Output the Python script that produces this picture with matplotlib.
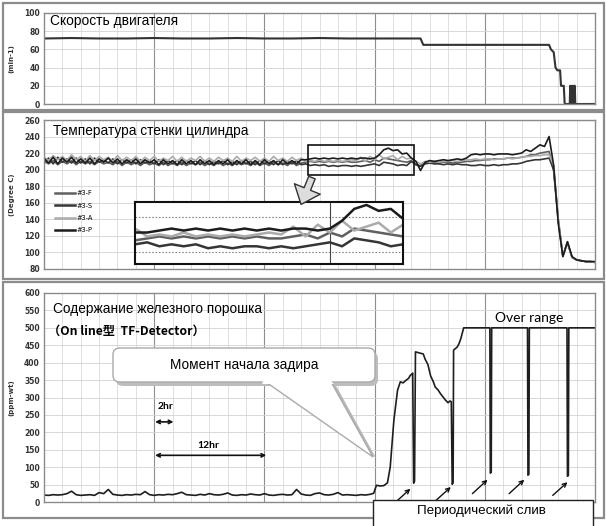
import numpy as np
import matplotlib
matplotlib.use("Agg")
import matplotlib.pyplot as plt
from matplotlib.patches import Rectangle, FancyBboxPatch, Polygon, FancyArrowPatch, ArrowStyle
from matplotlib.lines import Line2D

# ---------------- data ----------------
# engine speed (min-1)
speed_hr = [0, 3, 6, 9, 12, 15, 18, 21, 24, 27, 30, 33, 36, 39, 41.0, 41.3, 44, 47, 50, 53,
            55.0, 55.2, 55.5, 55.7, 55.9, 56.2, 56.3, 56.6, 56.7, 57.25,
            57.3, 57.4, 57.45, 57.55, 57.6, 57.7, 57.75, 57.8, 57.85, 60]
speed_val = [72, 72.5, 72, 72, 72.5, 72, 72, 72.5, 72, 72, 72.5, 72, 72, 72, 72, 65, 65, 65, 65, 65,
             65, 60, 57, 40, 37, 37, 20, 20, 0, 0,
             20, 0, 20, 0, 20, 0, 20, 20, 0, 0]

# cylinder wall temperature (deg C), sampled every 0.5 hr from 0 to 60 hr
temp_labels = ["#3-F", "#3-S", "#3-A", "#3-P"]
temp_F = [210,207,211,206,210,207,211,206,210,207, 210,206,210,207,209,206,210,205,209,206,
          209,205,209,206,208,205,209,205,208,205, 209,205,208,206,209,205,208,205,209,205,
          208,205,209,206,208,205,209,205,208,205, 209,206,208,205,209,205,208,
          209,210,209,210,209,210,209,210,209,210, 209,209,210,211,209,212,210,214,213,212,
          211,210,209,211,
          206,205,208,209,209,208,209,209,208,209, 209,210,210,211,211,212,212,213,213,213,
          214,214,214,215,216,218,218,220,221,222, 198,138,95,112,94,91,90,89,89,88]
temp_S = [208,214,207,215,209,213,208,214,208,213, 207,214,209,212,208,213,207,212,208,212,
          207,212,208,211,207,212,206,211,207,211, 206,211,207,211,206,211,206,210,207,211,
          206,210,206,211,207,210,206,211,207,210, 206,211,206,210,207,211,206,
          207,205,206,205,206,204,205,204,205,205, 204,205,204,205,206,207,205,209,208,207,
          205,206,205,210,
          206,204,207,208,207,207,206,207,206,207, 206,206,205,205,206,205,205,206,205,206,
          206,207,207,208,210,211,212,212,213,214, 200,140,96,112,94,91,90,89,89,88]
temp_A = [215,211,217,212,216,211,218,212,216,210, 217,211,216,212,215,210,217,211,215,211,
          216,210,215,211,216,210,214,211,216,210, 215,210,214,211,216,210,214,210,215,211,
          214,210,216,210,214,211,215,210,214,210, 216,211,214,210,215,211,214,
          210,211,210,212,210,211,210,211,210,211, 212,211,215,210,216,212,218,213,215,217,
          212,216,213,214,
          210,207,210,209,210,209,210,210,211,210, 211,212,212,213,212,213,213,212,213,213,
          214,213,214,215,216,216,217,217,218,218, 205,140,96,113,94,91,90,89,89,88]
temp_P = [214,208,215,207,214,209,215,208,213,208, 214,207,213,209,214,208,213,207,212,208,
          213,207,212,208,212,206,212,207,211,206, 212,207,211,206,212,207,211,206,211,207,
          212,206,211,207,212,206,211,206,212,207, 211,206,212,207,211,207,212,
          212,213,214,213,214,213,214,213,214,213, 214,213,214,214,213,214,218,224,226,223,
          224,219,220,214,
          210,199,209,211,210,211,212,211,212,213, 212,214,218,219,218,219,219,218,219,219,
          219,218,219,220,224,222,226,230,228,240, 205,135,95,113,95,91,90,89,89,89]

# iron powder content (ppm-wt): baseline every 0.5 hr, then event section
iron_base = [20,19,21,20,21,24,31,21,19,20, 21,19,27,24,36,22,20,19,21,20,
             22,21,30,21,19,21,20,22,21,24, 28,21,20,19,22,20,24,21,20,22,
             26,20,19,21,20,23,21,20,24,20, 19,21,22,20,21,36,23,20,19,24,
             26,21,20,22,27,20,21,20,19,21, 20,22]
iron_ev_hr = [35.9, 36.2, 36.6, 37.0, 37.4, 37.7, 38.1, 38.5, 38.8, 39.1,
              39.4, 39.7, 39.9, 40.1, 40.15, 40.25, 40.35, 40.45, 41.0, 41.3,
              41.5, 41.8, 42.1, 42.4, 42.6, 42.9, 43.2, 43.5, 43.7, 44.0,
              44.2, 44.35, 44.45, 44.55, 44.6, 45.0, 45.2, 45.4, 45.7, 48.55,
              48.6, 48.7, 48.75, 52.65, 52.7, 52.8, 52.85, 56.95, 57.0, 57.1,
              57.15, 60.0]
iron_ev_val = [25, 48, 46, 47, 55, 100, 235, 321, 345, 342,
               349, 355, 364, 368, 370, 54, 60, 431, 427, 425,
               410, 395, 362, 345, 330, 322, 310, 300, 293, 285,
               290, 288, 51, 55, 436, 445, 455, 470, 500, 500,
               83, 85, 500, 500, 77, 80, 500, 500, 74, 76,
               500, 500]

# ---------------- figure ----------------
W, H = 606, 526
fig = plt.figure(figsize=(W / 100, H / 100), dpi=100)
fig.patch.set_facecolor("white")

NARROW = ["Liberation Sans Narrow", "Liberation Sans", "DejaVu Sans"]
CAL = ["Lato", "DejaVu Sans"]


def fx(px):
    return px / W


def fy(py):
    return 1 - py / H


def axrect(l, t, r, b):
    return [l / W, 1 - b / H, (r - l) / W, (b - t) / H]


# panel frames
for (l, t, r, b) in [(3, 3, 604, 110), (3, 112, 604, 279), (3, 282, 604, 518)]:
    fig.add_artist(Rectangle((fx(l), fy(b)), fx(r) - fx(l), fy(t) - fy(b), transform=fig.transFigure,
                             fill=False, ec="#8c8c8c", lw=1.6, zorder=0.5))


def style(ax, ylim, yticks, ylabel):
    ax.set_xlim(0, 60)
    ax.set_ylim(*ylim)
    ax.set_yticks(yticks)
    ax.set_xticks([12, 24, 36, 48])
    ax.set_xticks(np.arange(0, 61, 2), minor=True)
    ax.grid(which="minor", axis="x", color="#dadada", lw=0.6)
    ax.grid(which="major", axis="x", color="#8f8f8f", lw=0.8)
    ax.grid(which="major", axis="y", color="#d2d2d2", lw=0.6)
    ax.set_axisbelow(True)
    ax.tick_params(which="both", length=0, labelbottom=False, labelsize=5.5, pad=3, labelcolor="#333333")
    for lab in ax.get_yticklabels():
        lab.set_fontweight("bold")
    for s in ax.spines.values():
        s.set_color("#8a8a8a")
        s.set_linewidth(1.0)
    ax.set_ylabel(ylabel, fontsize=5, fontweight="bold", color="#333333")
    ax.yaxis.set_label_coords(-0.053, 0.5)


ax1 = fig.add_axes(axrect(44, 13, 595, 104))
ax2 = fig.add_axes(axrect(44, 120, 595, 269))
ax3 = fig.add_axes(axrect(44, 293, 595, 502))
style(ax1, (0, 100), np.arange(0, 101, 20), "(min-1)")
style(ax2, (80, 260), np.arange(80, 261, 20), "(Degree C)")
style(ax3, (0, 600), np.arange(0, 601, 50), "(ppm-wt)")

# speed
ax1.plot(speed_hr, speed_val, color="#333333", lw=1.5)

# temperature
temp_series = [temp_F, temp_S, temp_A, temp_P]
temp_colors = ["#606060", "#353535", "#ababab", "#1c1c1c"]
for s, c, lab in zip(temp_series, temp_colors, temp_labels):
    hr = np.arange(len(s)) * 0.5
    ax2.plot(hr, s, color=c, lw=1.2, label=lab)
leg_handles = [Line2D([], [], color=c, lw=1.8) for c in temp_colors]
ax2.legend(leg_handles, temp_labels, loc="upper left", bbox_to_anchor=(0.015, 0.545), frameon=False,
           fontsize=4.8, handlelength=3.0, handletextpad=0.3, labelspacing=0.95, borderaxespad=0)
ax2.add_patch(Rectangle((28.7, 193.2), 11.6, 36.2, fill=False, ec="#111111", lw=1.2, zorder=5))

# inset (magnified view)
axi = fig.add_axes(axrect(135, 202, 403, 264))
for s, c in zip(temp_series, temp_colors):
    hr = np.arange(len(s)) * 0.5
    axi.plot(hr, s, color=c, lw=1.8)
axi.set_xlim(28, 39)
axi.set_ylim(196, 227.5)
axi.axhline(220, color="#888888", lw=0.8, ls=(0, (1.5, 1.5)), zorder=0)
axi.axhline(202, color="#888888", lw=0.8, ls=(0, (1.5, 1.5)), zorder=0)
axi.axvline(36, color="#444444", lw=0.8, zorder=0)
axi.set_xticks([])
axi.set_yticks([])
for s in axi.spines.values():
    s.set_color("#111111")
    s.set_linewidth(1.5)

# block arrow from highlight box to inset
fig.add_artist(FancyArrowPatch(posA=(fx(313), fy(175)), posB=(fx(300), fy(207)), transform=fig.transFigure,
                               arrowstyle=ArrowStyle.Simple(head_length=0.6, head_width=1.0, tail_width=0.25),
                               mutation_scale=20, fc="#dddddd", ec="#333333", lw=1.0, zorder=10))

# iron powder
iron_hr = list(np.arange(len(iron_base)) * 0.5) + iron_ev_hr
iron_val = iron_base + iron_ev_val
ax3.plot(iron_hr, iron_val, color="#1e1e1e", lw=1.2)

# annotations in iron panel
ax3.annotate("", xy=(14.1, 230), xytext=(12.1, 230),
             arrowprops=dict(arrowstyle="<->", lw=1.2, color="#111111", mutation_scale=6, shrinkA=0, shrinkB=0))
ax3.text(13.2, 273, "2hr", ha="center", va="center", fontsize=7.5, fontweight="bold", family=CAL)
ax3.annotate("", xy=(24.2, 134), xytext=(12.1, 134),
             arrowprops=dict(arrowstyle="<->", lw=1.2, color="#111111", mutation_scale=6, shrinkA=0, shrinkB=0))
ax3.text(17.9, 163, "12hr", ha="center", va="center", fontsize=7.5, fontweight="bold", family=CAL)
ax3.text(52.8, 529, "Over range", ha="center", va="center", fontsize=10, family=CAL)
for (x0, y0, x1, y1) in [(38.3, 0, 39.9, 38), (42.7, 5, 44.3, 43), (46.65, 24, 48.3, 64),
                         (50.65, 24, 52.3, 64), (55.4, 19, 57.0, 57)]:
    ax3.annotate("", xy=(x1, y1), xytext=(x0, y0), annotation_clip=False,
                 arrowprops=dict(arrowstyle="->", lw=1.0, color="#111111", mutation_scale=7, shrinkA=0, shrinkB=0))

# callout
def P(px, py):
    return (fx(px), fy(py))

fig.add_artist(Polygon([P(266, 382), P(334, 382), P(376, 458)], closed=True, transform=fig.transFigure,
                       fc="#b8b8b8", ec="none", zorder=3))
fig.add_artist(FancyBboxPatch(P(116, 386), fx(262), fy(0) - fy(34), transform=fig.transFigure,
                              boxstyle="round,pad=0,rounding_size=0.012", fc="#bdbdbd", ec="none", zorder=3))
fig.add_artist(Polygon([P(263, 380), P(330, 380), P(373, 457)], closed=True, transform=fig.transFigure,
                       fc="white", ec="#aaaaaa", lw=1.0, zorder=4))
fig.add_artist(FancyBboxPatch(P(113, 382), fx(262), fy(0) - fy(34), transform=fig.transFigure,
                              boxstyle="round,pad=0,rounding_size=0.012", fc="white", ec="#aaaaaa", lw=1.0, zorder=4))
fig.add_artist(Polygon([P(264, 379), P(329, 379), P(334, 384), P(262, 384)], closed=True, transform=fig.transFigure,
                       fc="white", ec="none", zorder=4.5))
fig.text(fx(244), fy(365), "Момент начала задира", ha="center", va="center", fontsize=9.8, family=NARROW, zorder=5)

# periodic drain box
fig.add_artist(Rectangle(P(373, 532), fx(220), fy(500) - fy(532), transform=fig.transFigure,
                         fc="white", ec="#222222", lw=1.0, zorder=6, clip_on=False))
fig.text(fx(481), fy(511), "Периодический слив", ha="center", va="center", fontsize=9.6, family=NARROW, zorder=7)

# titles
fig.text(fx(50), fy(21), "Скорость двигателя", va="center", fontsize=9.9, family=NARROW)
fig.text(fx(53), fy(131), "Температура стенки цилиндра", va="center", fontsize=9.8, family=NARROW)
fig.text(fx(53), fy(309), "Содержание железного порошка", va="center", fontsize=9.8, family=NARROW)
fig.text(fx(48), fy(331), "（On line型  TF-Detector）", va="center", fontsize=8.8, fontweight="bold",
         family=["Noto Sans CJK JP", "DejaVu Sans"])

fig.savefig("out.png", dpi=100, facecolor="white")
